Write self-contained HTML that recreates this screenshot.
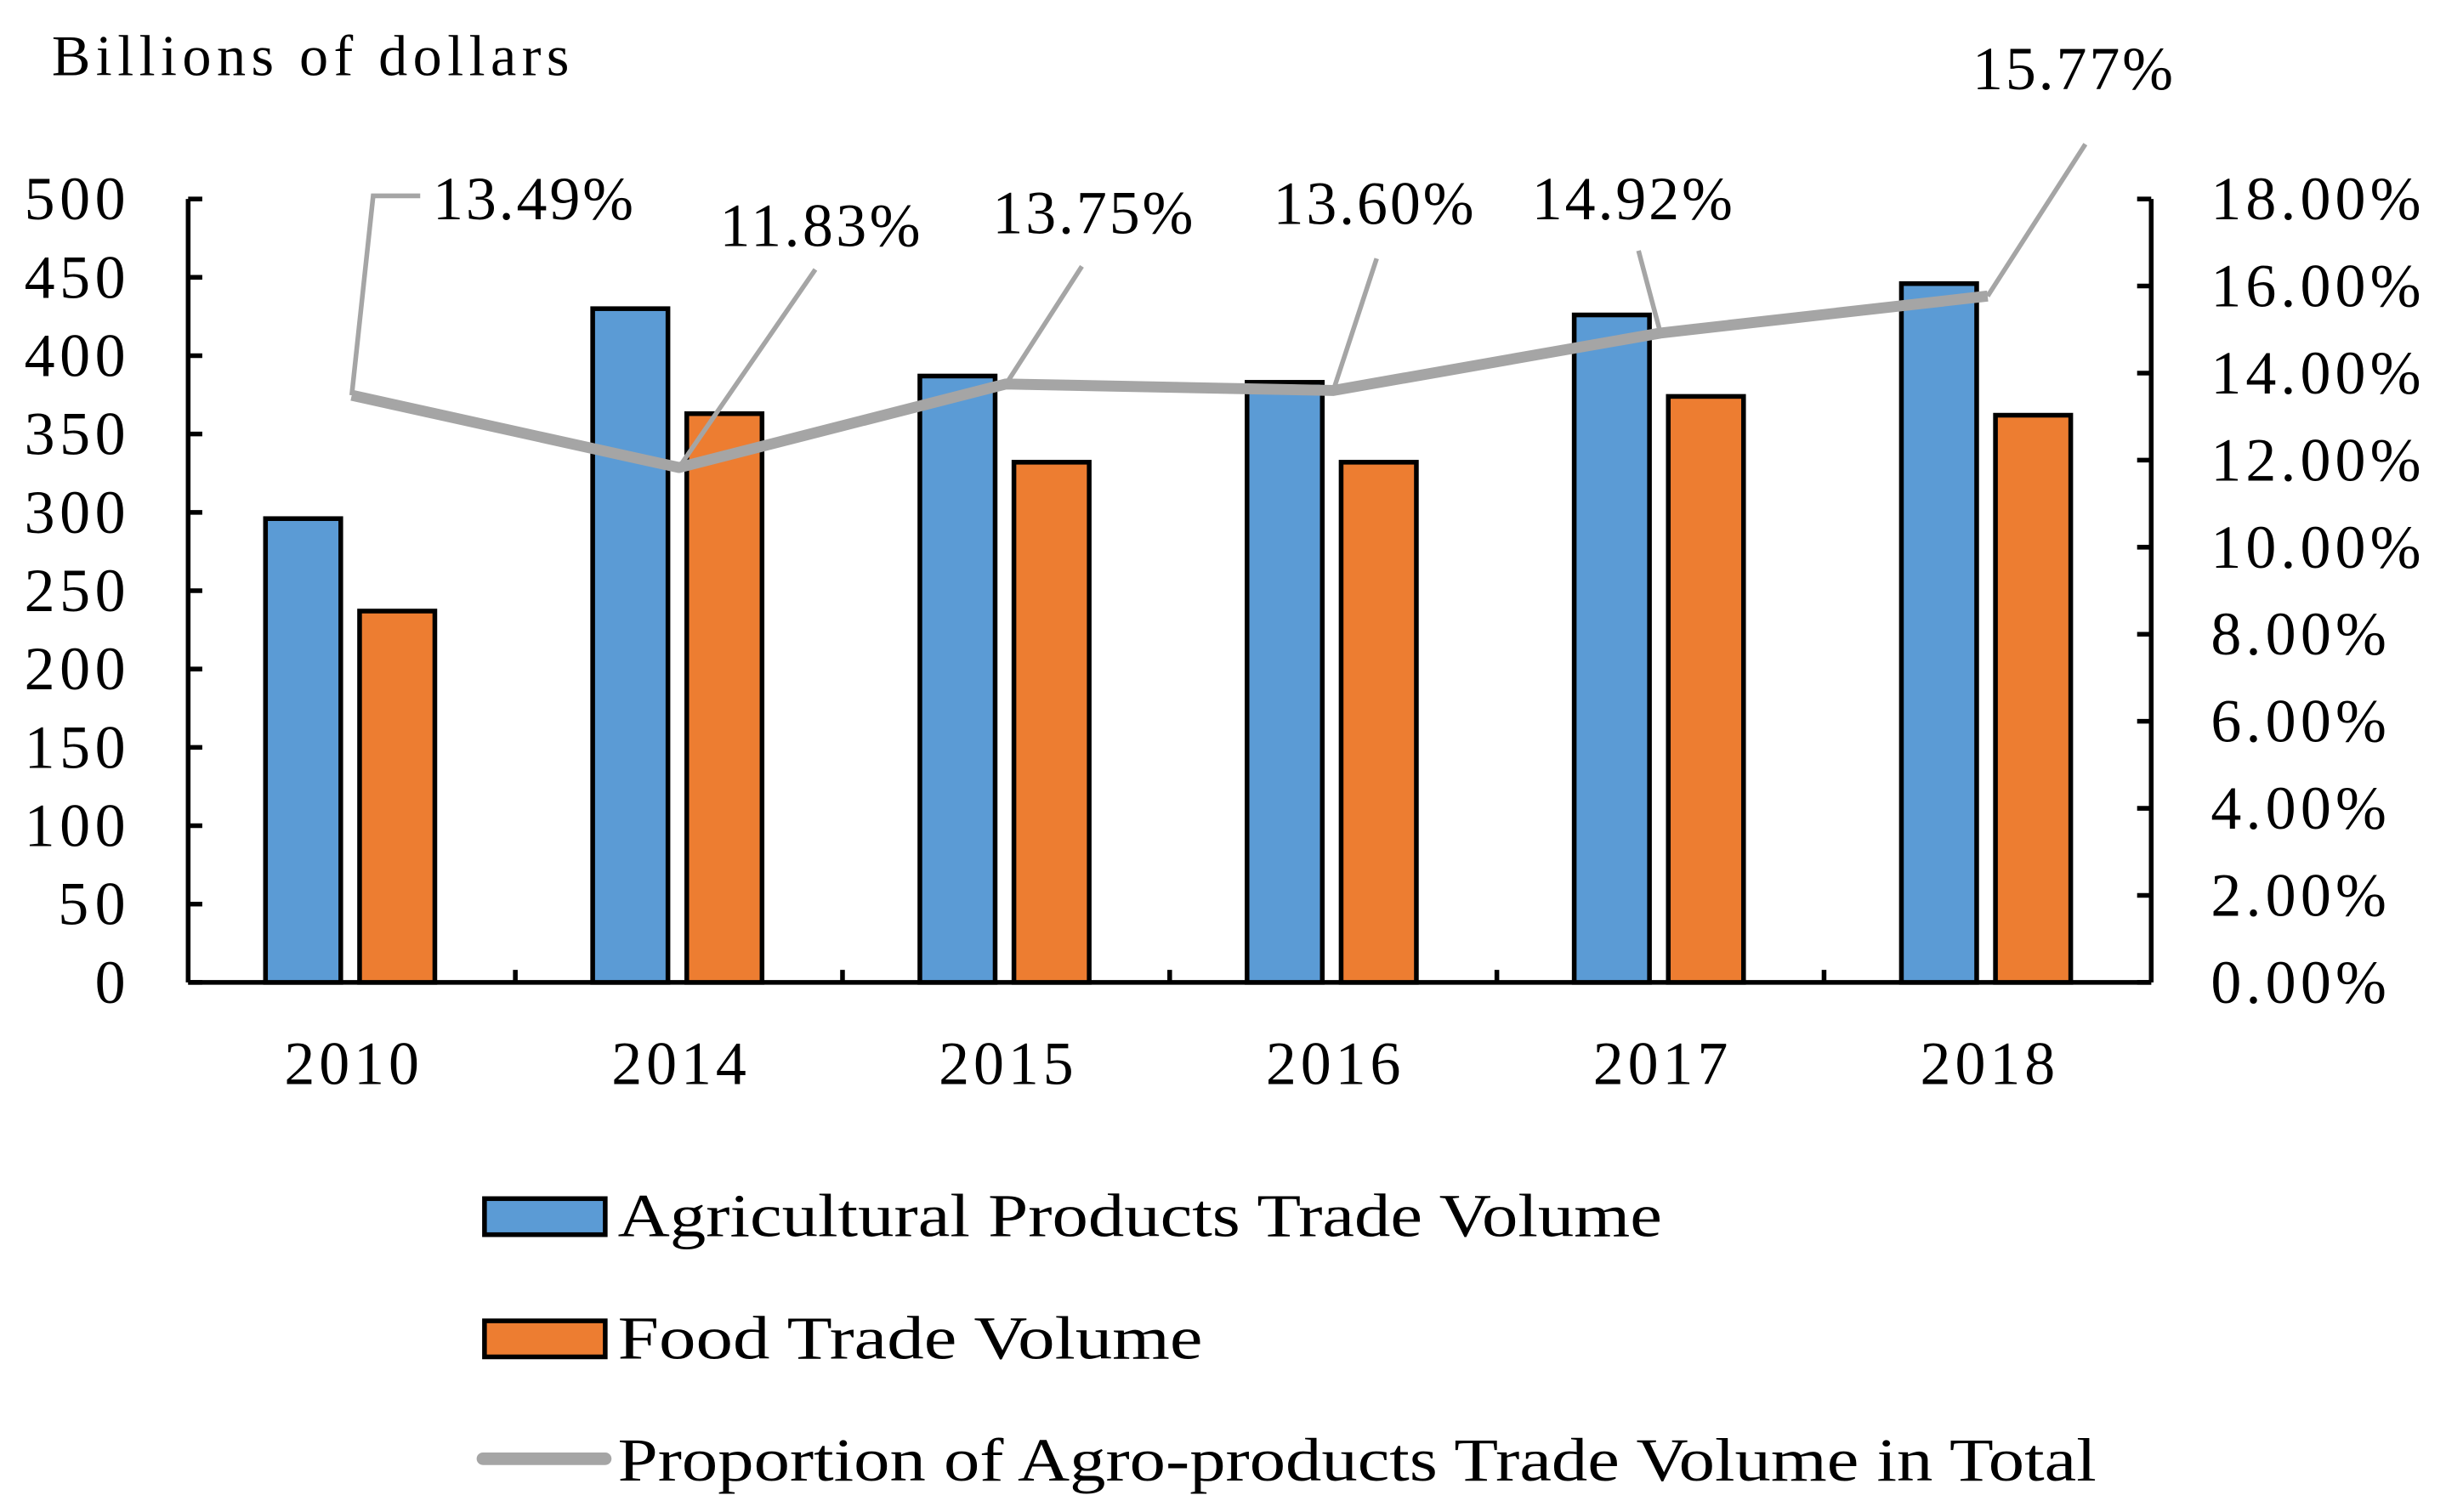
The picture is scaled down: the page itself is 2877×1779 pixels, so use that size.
<!DOCTYPE html>
<html><head><meta charset="utf-8"><style>
html,body{margin:0;padding:0;background:#fff;}
svg{display:block;}
text{font-family:"Liberation Serif",serif;fill:#000;}
</style></head><body>
<svg id="chart" width="2877" height="1779" viewBox="0 0 1560 965" preserveAspectRatio="none" xmlns="http://www.w3.org/2000/svg">
<text x="33" y="48" font-size="37" textLength="330" lengthAdjust="spacing">Billions of  dollars</text>
<g id="axes"></g><g id="bars"></g><g id="line"></g><g id="labels"></g>
<g>
<rect x="309" y="765" width="77" height="23" fill="#5b9bd5" stroke="#000" stroke-width="3"/>
<text x="394" y="789" font-size="39" textLength="666" lengthAdjust="spacingAndGlyphs">Agricultural Products Trade  Volume</text>
<rect x="309" y="843" width="77" height="23" fill="#ed7d31" stroke="#000" stroke-width="3"/>
<text x="394" y="867" font-size="39" textLength="373" lengthAdjust="spacingAndGlyphs">Food Trade  Volume</text>
<line x1="308" y1="931" x2="386" y2="931" stroke="#a5a5a5" stroke-width="8" stroke-linecap="round"/>
<text x="394" y="945" font-size="39" textLength="943" lengthAdjust="spacingAndGlyphs">Proportion of  Agro-products Trade Volume in Total</text>
</g>
</svg>
<script>
const categories = ["2010","2014","2015","2016","2017","2018"];
const agriValues = [296, 430, 387, 383, 426, 446];
const foodValues = [237, 363, 332, 332, 374, 362];
const proportionValues = [13.49, 11.83, 13.75, 13.60, 14.92, 15.77];
const proportionLabels = ["13.49%","11.83%","13.75%","13.60%","14.92%","15.77%"];
const leftTicks = [0,50,100,150,200,250,300,350,400,450,500];
const rightTicks = [0,2,4,6,8,10,12,14,16,18];

const NS="http://www.w3.org/2000/svg";
const X0=120, X1=1372, Y0=627, Y1=127;
const band=(X1-X0)/categories.length;
const xc=i=>X0+band*(i+0.5);
const yL=v=>Y0-(v/500)*(Y0-Y1);
const yR=v=>Y0-(v/18)*(Y0-Y1);
function mk(tag,attrs,parent,txt){const e=document.createElementNS(NS,tag);for(const k in attrs)e.setAttribute(k,attrs[k]);if(txt!==undefined)e.textContent=txt;parent.appendChild(e);return e;}
const axes=document.getElementById('axes'),bars=document.getElementById('bars'),lineG=document.getElementById('line'),labels=document.getElementById('labels');

let e;
e=mk('line',{x1:X0,y1:Y1,x2:X0,y2:Y0,stroke:'#000','stroke-width':3},axes);


e=mk('line',{x1:X1,y1:Y1,x2:X1,y2:Y0,stroke:'#000','stroke-width':3},axes);


e=mk('line',{x1:X0,y1:Y0,x2:X1,y2:Y0,stroke:'#000','stroke-width':3},axes);


leftTicks.forEach(t=>{
  mk('line',{x1:X0,y1:yL(t),x2:X0+9,y2:yL(t),stroke:'#000','stroke-width':3},axes);
  const s=String(t);
  e=mk('text',{x:80,y:yL(t)+13,'font-size':39,'text-anchor':'end',textLength:21.5*s.length,lengthAdjust:'spacing'},axes,s);
  
  
});
rightTicks.forEach(t=>{
  mk('line',{x1:X1-9,y1:yR(t),x2:X1,y2:yR(t),stroke:'#000','stroke-width':3},axes);
  const s=t.toFixed(2)+'%';
  e=mk('text',{x:1410,y:yR(t)+13,'font-size':39,textLength:s.length===6?134:112,lengthAdjust:'spacing'},axes,s);
  
  
});
for(let i=1;i<categories.length;i++){mk('line',{x1:X0+band*i,y1:Y0,x2:X0+band*i,y2:Y0-8,stroke:'#000','stroke-width':3},axes);}
categories.forEach((c,i)=>{
  e=mk('text',{x:xc(i),y:692,'font-size':39,'text-anchor':'middle',textLength:86,lengthAdjust:'spacing'},axes,c);
  
  
  e=mk('rect',{x:xc(i)-55,y:yL(agriValues[i]),width:48,height:Y0-yL(agriValues[i]),fill:'#5b9bd5',stroke:'#000','stroke-width':3},bars);
  
  
  e=mk('rect',{x:xc(i)+5,y:yL(foodValues[i]),width:48,height:Y0-yL(foodValues[i]),fill:'#ed7d31',stroke:'#000','stroke-width':3},bars);
  
  
});
const pts=proportionValues.map((v,i)=>xc(i)+','+yR(v)).join(' ');
e=mk('polyline',{points:pts,fill:'none',stroke:'#a5a5a5','stroke-width':7,'stroke-linejoin':'round'},lineG);


const lblPos=[[340,140],[523,157],[697,149],[876,143],[1041,140],[1322,57]];
const leaderEnd=[[[238,125],[268,125]],[[520,172]],[[690,170]],[[878,165]],[[1045,160]],[[1330,92]]];
proportionLabels.forEach((l,i)=>{
  const p=[[xc(i),yR(proportionValues[i])]].concat(leaderEnd[i]);
  mk('polyline',{points:p.map(q=>q.join(',')).join(' '),fill:'none',stroke:'#a5a5a5','stroke-width':3},labels);
  e=mk('text',{x:lblPos[i][0],y:lblPos[i][1],'font-size':39,'text-anchor':'middle',textLength:128,lengthAdjust:'spacing'},labels,l);
  
  
});
</script>
</body></html>
